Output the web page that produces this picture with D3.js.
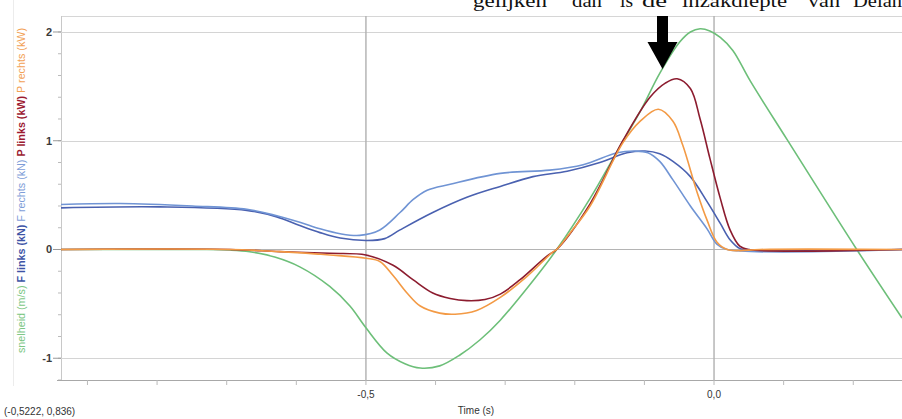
<!DOCTYPE html>
<html>
<head>
<meta charset="utf-8">
<script src="https://cdn.jsdelivr.net/npm/d3@7"></script>
<style>
  html, body { margin: 0; padding: 0; background: #fff; }
  svg { display: block; }
</style>
</head>
<body>
<svg id="chart" width="902" height="419"></svg>
<script>
// ---- data (time in s) ----
const snelheidT = [-0.938, -0.739, -0.695, -0.667, -0.631, -0.595, -0.552, -0.523, -0.500, -0.470, -0.444, -0.422, -0.394, -0.365, -0.336, -0.307, -0.264, -0.226, -0.178, -0.135, -0.106, -0.078, -0.049, -0.034, -0.020, -0.006, 0.009, 0.027, 0.052, 0.105, 0.205, 0.270];
const snelheidV = [0, 0, -0.005, -0.02, -0.07, -0.16, -0.34, -0.52, -0.72, -0.95, -1.05, -1.09, -1.07, -0.97, -0.83, -0.65, -0.32, 0, 0.47, 0.95, 1.27, 1.62, 1.91, 2.0, 2.03, 2.01, 1.95, 1.83, 1.55, 1.01, 0.0, -0.63];

const fLinksT = [-0.938, -0.796, -0.671, -0.628, -0.595, -0.566, -0.537, -0.499, -0.473, -0.451, -0.404, -0.355, -0.307, -0.260, -0.211, -0.164, -0.125, -0.099, -0.078, -0.059, -0.034, -0.010, 0.009, 0.023, 0.037, 0.049, 0.270];
const fLinksV = [0.383, 0.392, 0.36, 0.30, 0.22, 0.155, 0.105, 0.083, 0.10, 0.18, 0.34, 0.48, 0.58, 0.67, 0.72, 0.80, 0.89, 0.905, 0.88, 0.81, 0.67, 0.44, 0.24, 0.09, 0.01, 0, 0];

const fRechtsT = [-0.938, -0.853, -0.749, -0.671, -0.628, -0.595, -0.566, -0.537, -0.509, -0.480, -0.451, -0.432, -0.412, -0.379, -0.307, -0.236, -0.188, -0.139, -0.114, -0.095, -0.078, -0.059, -0.034, -0.010, 0.004, 0.019, 0.270];
const fRechtsV = [0.414, 0.423, 0.40, 0.37, 0.31, 0.25, 0.19, 0.145, 0.13, 0.18, 0.34, 0.46, 0.545, 0.60, 0.70, 0.73, 0.78, 0.89, 0.905, 0.89, 0.81, 0.64, 0.40, 0.19, 0.05, 0, 0];

const pLinksT = [-0.938, -0.695, -0.624, -0.552, -0.500, -0.461, -0.432, -0.404, -0.379, -0.355, -0.329, -0.307, -0.279, -0.240, -0.226, -0.178, -0.131, -0.092, -0.070, -0.053, -0.034, -0.020, -0.006, 0.009, 0.023, 0.037, 0.049, 0.270];
const pLinksV = [0, 0, -0.02, -0.035, -0.05, -0.145, -0.28, -0.40, -0.45, -0.47, -0.46, -0.41, -0.28, -0.06, 0, 0.42, 1.0, 1.40, 1.53, 1.57, 1.48, 1.20, 0.84, 0.47, 0.18, 0.03, 0, 0];

const pRechtsT = [-0.938, -0.695, -0.624, -0.552, -0.500, -0.480, -0.461, -0.441, -0.422, -0.394, -0.372, -0.341, -0.307, -0.269, -0.231, -0.226, -0.207, -0.178, -0.131, -0.106, -0.080, -0.059, -0.045, -0.024, -0.010, 0.004, 0.019, 0.037, 0.066, 0.270];
const pRechtsV = [0, 0, -0.02, -0.05, -0.08, -0.11, -0.24, -0.40, -0.52, -0.585, -0.595, -0.56, -0.44, -0.25, -0.02, 0, 0.15, 0.40, 0.98, 1.18, 1.29, 1.18, 0.96, 0.52, 0.27, 0.07, 0.0, -0.01, 0, 0];

const yTicks = [-1, 0, 1, 2];
const xTicks = [-0.5, 0.0];

const seriesList = [
  { name: "snelheid", t: snelheidT, v: snelheidV, color: "#6dbf79" },
  { name: "F links", t: fLinksT, v: fLinksV, color: "#4a61b0" },
  { name: "F rechts", t: fRechtsT, v: fRechtsV, color: "#7094d4" },
  { name: "P links", t: pLinksT, v: pLinksV, color: "#8c1c2f" },
  { name: "P rechts", t: pRechtsT, v: pRechtsV, color: "#f39a45" }
];

// ---- layout ----
const svg = d3.select("#chart");
const plotL = 61, plotR = 902, plotT = 16, plotB = 380;

const x = d3.scaleLinear().domain([-0.938, 0.270]).range([plotL, plotR]);
const y = d3.scaleLinear().domain([-1.2, 2.147]).range([plotB, plotT]);

const fmt = v => d3.format(".1f")(v).replace(".", ",").replace("−", "-");

svg.append("rect").attr("width", 902).attr("height", 419).attr("fill", "#fff");

// panel edge
svg.append("line").attr("x1", 13.5).attr("x2", 13.5).attr("y1", 0).attr("y2", 386)
  .attr("stroke", "#ececec").attr("stroke-width", 1);

// caption line running along the top edge
const caption = [
  ["gelijken", 473, 74], ["dan", 572, 30], ["is", 620, 13], ["de", 642, 25],
  ["inzakdiepte", 682, 105], ["van", 808, 32], ["Delans", 853, 57]
];
const capG = svg.append("g").attr("font-family", "Liberation Serif, DejaVu Serif, serif")
  .attr("font-size", 19).attr("fill", "#111");
caption.forEach(([w, cx, cw]) => {
  capG.append("text").attr("x", cx).attr("y", 7).attr("textLength", cw)
    .attr("lengthAdjust", "spacingAndGlyphs").text(w);
});

// plot frame
svg.append("line").attr("x1", plotL).attr("x2", plotR).attr("y1", plotT + 0.5).attr("y2", plotT + 0.5)
  .attr("stroke", "#d6d6d6");
svg.append("line").attr("x1", plotL + 0.5).attr("x2", plotL + 0.5).attr("y1", plotT).attr("y2", plotB)
  .attr("stroke", "#c8c8c8");

// grid
const grid = svg.append("g");
grid.selectAll("line.h").data(yTicks).join("line")
  .attr("x1", plotL).attr("x2", plotR)
  .attr("y1", d => Math.round(y(d)) + 0.5).attr("y2", d => Math.round(y(d)) + 0.5)
  .attr("stroke", d => d === 0 ? "#b4b4b4" : "#d4d4d4").attr("stroke-width", 1.2);
grid.selectAll("line.v").data(xTicks).join("line")
  .attr("x1", d => x(d)).attr("x2", d => x(d))
  .attr("y1", plotT).attr("y2", plotB)
  .attr("stroke", "#b0b0b0").attr("stroke-width", 1.4);

// y axis
const yAxis = svg.append("g");
const minorY = d3.range(-1.2, 2.15, 0.2).map(v => +v.toFixed(1));
yAxis.selectAll("line.minor").data(minorY).join("line")
  .attr("x1", plotL - 3).attr("x2", plotL)
  .attr("y1", d => y(d)).attr("y2", d => y(d))
  .attr("stroke", "#bbb");
yAxis.selectAll("line.major").data(yTicks).join("line")
  .attr("x1", plotL - 8).attr("x2", plotL)
  .attr("y1", d => y(d)).attr("y2", d => y(d))
  .attr("stroke", "#999");
yAxis.selectAll("text").data(yTicks).join("text")
  .attr("x", plotL - 9).attr("y", d => y(d)).attr("dy", "0.35em")
  .attr("text-anchor", "end")
  .attr("font-family", "Liberation Sans, Arial, sans-serif").attr("font-size", 11)
  .attr("font-weight", "bold").attr("fill", "#3a3a3a")
  .text(d => d);

// x axis
const xAxis = svg.append("g");
xAxis.append("line").attr("x1", 57).attr("x2", plotR).attr("y1", plotB + 0.5).attr("y2", plotB + 0.5)
  .attr("stroke", "#a8a8a8");
const minorX = d3.range(-0.9, 0.27, 0.1).map(v => +v.toFixed(1));
xAxis.selectAll("line.tick").data(minorX).join("line")
  .attr("x1", d => x(d)).attr("x2", d => x(d))
  .attr("y1", plotB).attr("y2", plotB + 5)
  .attr("stroke", "#bbb");
xAxis.selectAll("text").data(xTicks).join("text")
  .attr("x", d => x(d)).attr("y", 398)
  .attr("text-anchor", "middle")
  .attr("font-family", "Liberation Sans, Arial, sans-serif").attr("font-size", 10)
  .attr("fill", "#333")
  .text(d => fmt(d));
svg.append("text").attr("x", 476).attr("y", 414).attr("text-anchor", "middle")
  .attr("font-family", "Liberation Sans, Arial, sans-serif").attr("font-size", 10)
  .attr("fill", "#333").text("Time (s)");
svg.append("text").attr("x", 4).attr("y", 415)
  .attr("font-family", "Liberation Sans, Arial, sans-serif").attr("font-size", 10)
  .attr("fill", "#333").text("(-0,5222, 0,836)");

// rotated y-axis title, one colour per series
const yLabel = svg.append("text")
  .attr("transform", "translate(25,353) rotate(-90)")
  .attr("font-family", "Liberation Sans, Arial, sans-serif").attr("font-size", 10);
const labelParts = [
  ["snelheid (m/s) ", "#7cc784", "normal"],
  ["F links (kN) ", "#3d54a6", "bold"],
  ["F rechts (kN) ", "#7e9dd8", "normal"],
  ["P links (kW) ", "#9c1a30", "bold"],
  ["P rechts (kW)", "#f2a155", "normal"]
];
labelParts.forEach(([s, c, w]) => yLabel.append("tspan").attr("fill", c).attr("font-weight", w).text(s));
yLabel.attr("textLength", 325).attr("lengthAdjust", "spacingAndGlyphs");

// curves
svg.append("clipPath").attr("id", "plotClip").append("rect")
  .attr("x", plotL).attr("y", plotT).attr("width", plotR - plotL).attr("height", plotB - plotT);
const line = d3.line().curve(d3.curveCatmullRom.alpha(0.5)).x(d => x(d[0])).y(d => y(d[1]));
const curves = svg.append("g").attr("clip-path", "url(#plotClip)");
seriesList.forEach(s => {
  curves.append("path")
    .datum(s.t.map((t, i) => [t, s.v[i]]))
    .attr("fill", "none").attr("stroke", s.color)
    .attr("stroke-width", 1.6).attr("stroke-linejoin", "round")
    .attr("d", line);
});

// arrow marker
const ax = 662.5;
svg.append("path")
  .attr("d", `M${ax - 5.5},16 L${ax + 5.5},16 L${ax + 5.5},42 L${ax + 15},42 L${ax},69 L${ax - 15},42 L${ax - 5.5},42 Z`)
  .attr("fill", "#000");
</script>
</body>
</html>
